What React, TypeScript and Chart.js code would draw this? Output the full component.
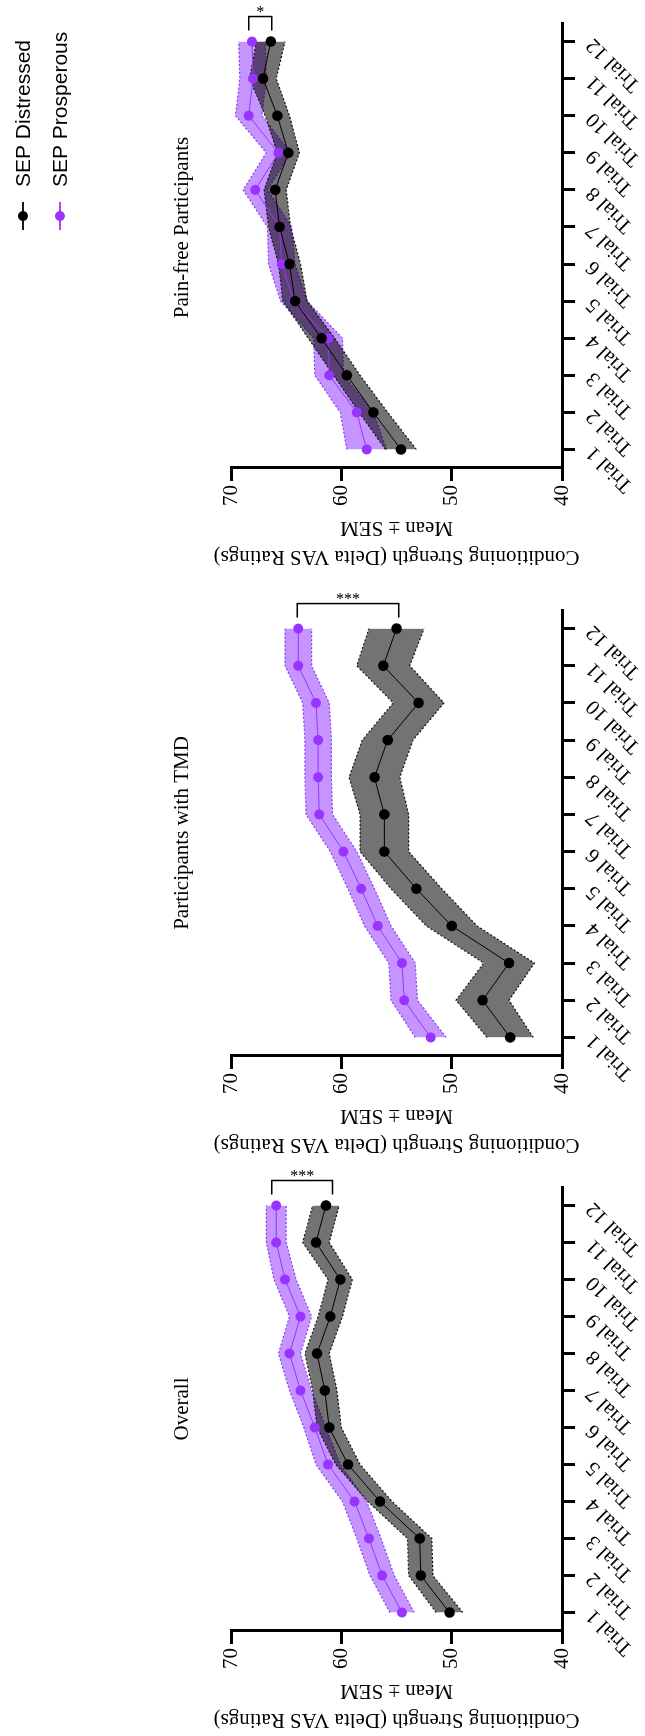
import React, { useEffect, useRef } from 'react';
import { Chart, registerables } from 'chart.js';

Chart.register(...registerables);

// ---------------- DATA ----------------
const trialLabels = ['Trial 1', 'Trial 2', 'Trial 3', 'Trial 4', 'Trial 5', 'Trial 6', 'Trial 7', 'Trial 8', 'Trial 9', 'Trial 10', 'Trial 11', 'Trial 12'];
const valueMin = 40;
const valueMax = 70;
const valueStep = 10;
const seriesNames = ['SEP Distressed', 'SEP Prosperous'];
const axisTitleLines = ['Conditioning Strength (Delta VAS Ratings)', 'Mean ± SEM'];
const panelTitles = ['Overall', 'Participants with TMD', 'Pain-free Participants'];

const overallDistressed = [50.2, 52.8, 52.9, 56.5, 59.4, 61.1, 61.5, 62.2, 61.0, 60.1, 62.3, 61.4];
const overallDistressedSem = [1.2, 1.1, 1.1, 1.1, 1.1, 1.1, 1.1, 1.1, 1.1, 1.1, 1.2, 1.2];
const overallProsperous = [54.5, 56.3, 57.5, 58.8, 61.2, 62.4, 63.7, 64.7, 63.7, 65.1, 65.9, 65.9];
const overallProsperousSem = [1.1, 1.1, 1.1, 1.1, 1.1, 1.0, 1.0, 1.0, 1.0, 1.0, 0.9, 0.9];
const overallBracket = [66.3, 60.8];
const overallStars = '***';

const tmdDistressed = [44.7, 47.2, 44.8, 50.0, 53.2, 56.1, 56.1, 57.0, 55.8, 53.0, 56.2, 55.0];
const tmdDistressedSem = [2.1, 2.4, 2.3, 2.3, 2.3, 2.2, 2.2, 2.3, 2.3, 2.3, 2.4, 2.5];
const tmdProsperous = [51.9, 54.3, 54.5, 56.7, 58.2, 59.8, 62.0, 62.1, 62.1, 62.3, 63.9, 63.9];
const tmdProsperousSem = [1.4, 1.2, 1.2, 1.2, 1.2, 1.2, 1.2, 1.2, 1.2, 1.2, 1.2, 1.2];
const tmdBracket = [64.0, 54.8];
const tmdStars = '***';

const painFreeDistressed = [54.6, 57.1, 59.5, 61.8, 64.2, 64.7, 65.6, 66.0, 64.8, 65.8, 67.1, 66.4];
const painFreeDistressedSem = [1.4, 1.3, 1.2, 1.2, 1.1, 1.0, 1.0, 1.0, 1.0, 1.1, 1.2, 1.3];
const painFreeProsperous = [57.7, 58.6, 61.1, 61.2, 64.3, 65.4, 65.6, 67.8, 65.7, 68.4, 68.0, 68.1];
const painFreeProsperousSem = [1.8, 1.5, 1.3, 1.3, 1.2, 1.2, 1.1, 1.1, 1.1, 1.2, 1.2, 1.2];
const painFreeBracket = [68.4, 66.3];
const painFreeStars = '*';

// ---------------- STYLE ----------------
const BLACK = '#000000';
const PURPLE = '#9933ff';
const BLACK_BAND = 'rgba(0,0,0,0.55)';
const BLACK_BAND_EDGE = '#1a1a1a';
const PURPLE_BAND = 'rgba(150,60,255,0.55)';
const PURPLE_BAND_EDGE = '#8a3cf0';
const SERIF = '"Liberation Serif", "Times New Roman", serif';
const SANS = '"Liberation Sans", Arial, sans-serif';

const FRAME_W = 1736;
const FRAME_H = 645;

type PanelCfg = {
  key: string;
  title: string;
  titleShift: number;
  distressed: number[];
  distressedSem: number[];
  prosperous: number[];
  prosperousSem: number[];
  bracket: number[];
  stars: string;
  left: number;
  width: number;
  yAxisWidth: number;
  padRight: number;
  legend: boolean;
};

const panels: PanelCfg[] = [
  { key: 'overall', title: panelTitles[0], titleShift: 0, distressed: overallDistressed, distressedSem: overallDistressedSem, prosperous: overallProsperous, prosperousSem: overallProsperousSem, bracket: overallBracket, stars: overallStars, left: 0, width: 620, yAxisWidth: 105, padRight: 71, legend: false },
  { key: 'tmd', title: panelTitles[1], titleShift: 0, distressed: tmdDistressed, distressedSem: tmdDistressedSem, prosperous: tmdProsperous, prosperousSem: tmdProsperousSem, bracket: tmdBracket, stars: tmdStars, left: 550, width: 620, yAxisWidth: 130, padRight: 44, legend: false },
  { key: 'painfree', title: panelTitles[2], titleShift: 18, distressed: painFreeDistressed, distressedSem: painFreeDistressedSem, prosperous: painFreeProsperous, prosperousSem: painFreeProsperousSem, bracket: painFreeBracket, stars: painFreeStars, left: 1138, width: 598, yAxisWidth: 130, padRight: 23, legend: true },
];

function makeDecor(p: PanelCfg) {
  return {
    id: 'decor_' + p.key,
    afterDraw(chart: any) {
      const { ctx, chartArea, scales } = chart;
      const xs = scales.x;
      const ys = scales.y;
      ctx.save();
      ctx.fillStyle = '#000';
      // panel title
      ctx.font = '21px ' + SERIF;
      ctx.textAlign = 'center';
      ctx.textBaseline = 'alphabetic';
      ctx.fillText(p.title, (chartArea.left + chartArea.right) / 2 + p.titleShift, 188);
      // y axis title (two lines)
      const cy = (chartArea.top + chartArea.bottom) / 2;
      const lines: [string, number][] = [[axisTitleLines[0], -89], [axisTitleLines[1], -60]];
      lines.forEach(([t, off]) => {
        ctx.save();
        ctx.translate(chartArea.left + off, cy);
        ctx.rotate(-Math.PI / 2);
        ctx.textAlign = 'center';
        ctx.textBaseline = 'middle';
        ctx.font = '21px ' + SERIF;
        ctx.fillText(t, 0, 0);
        ctx.restore();
      });
      // significance bracket
      const xb = xs.getPixelForValue(trialLabels.length - 1) + 25;
      const xe = xb - 14;
      const y1 = ys.getPixelForValue(p.bracket[0]);
      const y2 = ys.getPixelForValue(p.bracket[1]);
      ctx.strokeStyle = '#000';
      ctx.lineWidth = 1.5;
      ctx.beginPath();
      ctx.moveTo(xe, y1);
      ctx.lineTo(xb, y1);
      ctx.lineTo(xb, y2);
      ctx.lineTo(xe, y2);
      ctx.stroke();
      ctx.save();
      ctx.translate(xb + 4, (y1 + y2) / 2);
      ctx.rotate(Math.PI / 2);
      ctx.font = '16px ' + SERIF;
      ctx.textAlign = 'center';
      ctx.textBaseline = 'middle';
      ctx.fillText(p.stars, 0, 0);
      ctx.restore();
      // legend
      if (p.legend) {
        const mx = 1520 - p.left;
        const rows: [string, string, number, number][] = [
          [seriesNames[0], BLACK, 23, 24],
          [seriesNames[1], PURPLE, 60, 61],
        ];
        rows.forEach(([name, col, vy, ty]) => {
          ctx.strokeStyle = col;
          ctx.fillStyle = col;
          ctx.lineWidth = 1.8;
          ctx.beginPath();
          ctx.moveTo(mx - 14, vy);
          ctx.lineTo(mx + 14, vy);
          ctx.stroke();
          ctx.beginPath();
          ctx.arc(mx, vy, 5, 0, Math.PI * 2);
          ctx.fill();
          ctx.fillStyle = '#000';
          ctx.font = '21px ' + SANS;
          ctx.textAlign = 'left';
          ctx.textBaseline = 'middle';
          ctx.fillText(name, 1549 - p.left, ty);
        });
      }
      ctx.restore();
    },
  };
}

function buildConfig(p: PanelCfg): any {
  const pu = p.prosperous.map((v, i) => v + p.prosperousSem[i]);
  const pl = p.prosperous.map((v, i) => v - p.prosperousSem[i]);
  const du = p.distressed.map((v, i) => v + p.distressedSem[i]);
  const dl = p.distressed.map((v, i) => v - p.distressedSem[i]);
  const bandBase = { pointRadius: 0, borderWidth: 1.2, borderDash: [2, 2], tension: 0 };
  return {
    type: 'line',
    data: {
      labels: trialLabels,
      datasets: [
        { ...bandBase, label: 'p-lo', data: pl, borderColor: PURPLE_BAND_EDGE, fill: false, order: 6 },
        { ...bandBase, label: 'p-hi', data: pu, borderColor: PURPLE_BAND_EDGE, backgroundColor: PURPLE_BAND, fill: 0, order: 5 },
        { ...bandBase, label: 'd-lo', data: dl, borderColor: BLACK_BAND_EDGE, fill: false, order: 4 },
        { ...bandBase, label: 'd-hi', data: du, borderColor: BLACK_BAND_EDGE, backgroundColor: BLACK_BAND, fill: 2, order: 3 },
        { label: seriesNames[1], data: p.prosperous, borderColor: PURPLE, backgroundColor: PURPLE, borderWidth: 1, pointRadius: 5, pointBorderWidth: 0, pointBackgroundColor: PURPLE, fill: false, order: 2, tension: 0 },
        { label: seriesNames[0], data: p.distressed, borderColor: BLACK, backgroundColor: BLACK, borderWidth: 1, pointRadius: 5.3, pointBorderWidth: 0, pointBackgroundColor: BLACK, fill: false, order: 1, tension: 0 },
      ],
    },
    options: {
      responsive: false,
      animation: false,
      devicePixelRatio: 1,
      layout: { padding: { top: 231, right: p.padRight, bottom: 0, left: 0 } },
      plugins: {
        legend: { display: false },
        title: { display: false },
        tooltip: { enabled: false },
      },
      scales: {
        x: {
          type: 'category',
          offset: true,
          grid: { display: true, offset: false, drawOnChartArea: false, drawTicks: true, tickLength: 13, tickWidth: 3, tickColor: '#000' },
          border: { display: true, color: '#000', width: 3 },
          ticks: { autoSkip: false, maxRotation: 45, minRotation: 45, padding: 6, color: '#000', font: { family: SERIF, size: 21 } },
          afterFit: (s: any) => { s.height = FRAME_H - 562; },
        },
        y: {
          min: valueMin,
          max: valueMax,
          grid: { display: true, drawOnChartArea: false, drawTicks: true, tickLength: 13, tickWidth: 3, tickColor: '#000' },
          border: { display: true, color: '#000', width: 3 },
          ticks: { stepSize: valueStep, padding: 4, color: '#000', font: { family: SERIF, size: 21 } },
          afterFit: (s: any) => { s.width = p.yAxisWidth; },
        },
      },
    },
    plugins: [makeDecor(p)],
  };
}

function Panel({ p }: { p: PanelCfg }) {
  const ref = useRef<HTMLCanvasElement | null>(null);
  useEffect(() => {
    if (!ref.current) return;
    const chart = new Chart(ref.current, buildConfig(p));
    return () => chart.destroy();
  }, []);
  return (
    <canvas
      ref={ref}
      width={p.width}
      height={FRAME_H}
      style={{ position: 'absolute', left: p.left, top: 0, width: p.width, height: FRAME_H }}
    />
  );
}

export default function App() {
  return (
    <div style={{ position: 'fixed', left: 0, top: 0, width: FRAME_H, height: FRAME_W, overflow: 'hidden', background: '#fff' }}>
      <div
        style={{
          position: 'absolute',
          left: 0,
          top: 0,
          width: FRAME_W,
          height: FRAME_H,
          transformOrigin: '0 0',
          transform: `translateY(${FRAME_W}px) rotate(-90deg)`,
        }}
      >
        {panels.map((p) => (
          <Panel key={p.key} p={p} />
        ))}
      </div>
    </div>
  );
}
